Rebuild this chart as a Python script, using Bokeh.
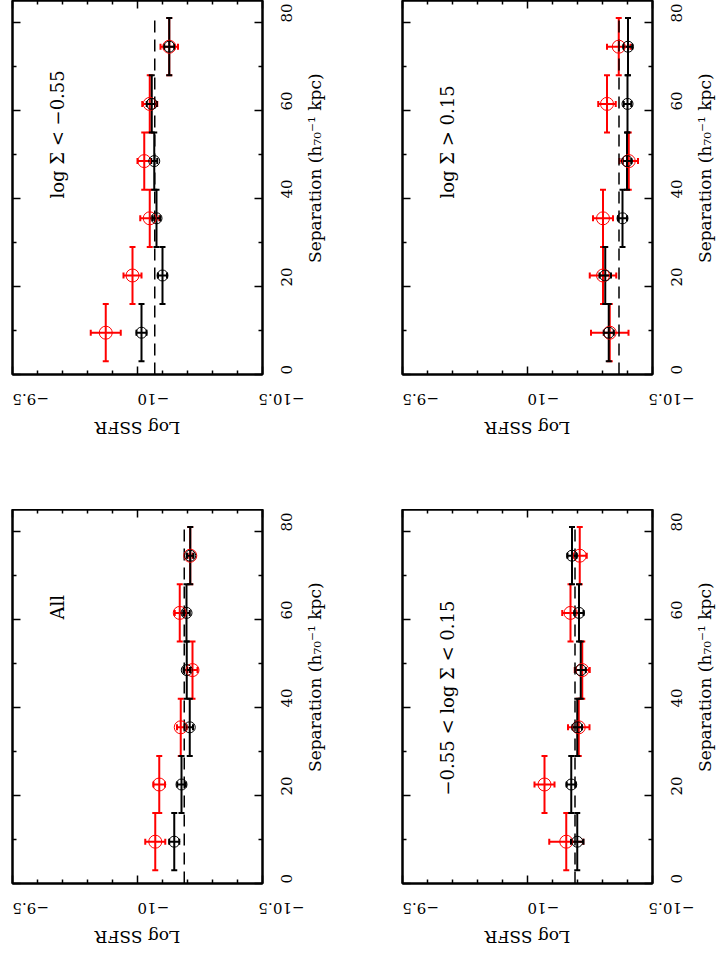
import math
from bokeh.plotting import figure
from bokeh.models import (Range1d, LinearAxis, Whisker, ColumnDataSource, Label,
                          TeeHead, FixedTicker, CustomJSTickFormatter)
from bokeh.layouts import row, column
from bokeh.embed import file_html
from bokeh.resources import INLINE
from bokeh.core.properties import value

FONT = "DejaVu Serif"

# ---------------- data ----------------
sep_centers = [9.5, 22.5, 35.5, 48.5, 61.5, 74.5]
sep_halfwidth = 6.5
dashed_sep = [0, 81]

# panel: log Sigma < -0.55 (top-left)
low_black = [-10.016, -10.100, -10.076, -10.067, -10.057, -10.127]
low_black_err = [0.020, 0.018, 0.015, 0.012, 0.020, 0.020]
low_red = [-9.873, -9.980, -10.049, -10.027, -10.049, -10.127]
low_red_err = [0.060, 0.036, 0.038, 0.027, 0.030, 0.035]
low_median = -10.069

# panel: log Sigma > 0.15 (top-right)
high_black = [-10.325, -10.311, -10.380, -10.398, -10.400, -10.402]
high_black_err = [0.020, 0.023, 0.018, 0.017, 0.015, 0.017]
high_red = [-10.329, -10.302, -10.302, -10.405, -10.318, -10.365]
high_red_err = [0.075, 0.053, 0.040, 0.037, 0.035, 0.047]
high_median = -10.366

# panel: All (bottom-left)
all_black = [-10.147, -10.176, -10.209, -10.197, -10.196, -10.211]
all_black_err = [0.020, 0.017, 0.013, 0.013, 0.013, 0.013]
all_red = [-10.071, -10.087, -10.173, -10.220, -10.169, -10.211]
all_red_err = [0.040, 0.023, 0.015, 0.020, 0.020, 0.010]
all_median = -10.187

# panel: -0.55 < log Sigma < 0.15 (bottom-right)
mid_black = [-10.199, -10.175, -10.199, -10.213, -10.206, -10.178]
mid_black_err = [0.025, 0.018, 0.019, 0.020, 0.018, 0.018]
mid_red = [-10.155, -10.068, -10.205, -10.219, -10.172, -10.209]
mid_red_err = [0.068, 0.040, 0.043, 0.030, 0.033, 0.028]
mid_median = -10.190

x_major = [-10.5, -10.0, -9.5]
x_minor = [-10.4, -10.3, -10.2, -10.1, -9.9, -9.8, -9.7, -9.6]
x_labels = {-10.5: "\u221210.5", -10.0: "\u221210", -9.5: "\u22129.5",
            "-10.5": "\u221210.5", "-10": "\u221210", "-9.5": "\u22129.5"}
y_major = [0, 20, 40, 60, 80]
y_minor = [10, 30, 50, 70]

SEP_LABEL = "Separation (h\u2087\u2080\u207b\u00b9 kpc)"
SSFR_LABEL = "Log SSFR"

TICK_FS = "15px"
LABEL_FS = "17px"
PANEL_FS = "18px"

FRAME_W = 250
FRAME_H = 374
LEFT_B = 12
PANEL_R = 42      # room for the rotated Separation tick labels
PANEL_B = 43      # room for the upside-down Log SSFR tick labels


def style_axis(ax, major_len=8, minor_len=4):
    ax.axis_line_color = "black"
    ax.axis_line_width = 2
    ax.major_tick_in = major_len
    ax.major_tick_out = 0
    ax.minor_tick_in = minor_len
    ax.minor_tick_out = 0
    ax.major_tick_line_width = 1.5
    ax.minor_tick_line_width = 1.5
    ax.major_tick_line_color = "black"
    ax.minor_tick_line_color = "black"
    ax.major_label_text_font = FONT
    ax.major_label_text_font_size = TICK_FS
    ax.major_label_text_color = "black"


def hidden_labels(ax):
    ax.formatter = CustomJSTickFormatter(code="return ''")
    ax.major_label_text_font_size = "1px"
    ax.major_label_standoff = 0
    ax.axis_label = None


def make_panel(black, black_err, red, red_err, median, text, text_sep):
    p = figure(frame_width=FRAME_W, frame_height=FRAME_H, output_backend="svg",
               toolbar_location=None,
               x_range=Range1d(-9.5, -10.5), y_range=Range1d(0, 85),
               x_axis_location="below", y_axis_location="right",
               min_border_left=LEFT_B, min_border_right=PANEL_R,
               min_border_top=0, min_border_bottom=PANEL_B)
    p.grid.visible = False
    p.outline_line_color = "black"
    p.outline_line_width = 2
    p.background_fill_color = "white"
    p.border_fill_color = "white"

    xt = FixedTicker(ticks=x_major, minor_ticks=x_minor)
    yt = FixedTicker(ticks=y_major, minor_ticks=y_minor)

    xb = p.xaxis[0]
    xb.ticker = xt
    style_axis(xb)
    xb.major_label_orientation = math.pi
    xb.major_label_overrides = x_labels
    xb.major_label_standoff = 25

    yr = p.yaxis[0]
    yr.ticker = yt
    style_axis(yr)
    yr.major_label_orientation = math.pi / 2
    yr.major_label_standoff = 24

    xtop = LinearAxis(ticker=xt)
    style_axis(xtop)
    hidden_labels(xtop)
    p.add_layout(xtop, "above")
    yleft = LinearAxis(ticker=yt)
    style_axis(yleft)
    hidden_labels(yleft)
    p.add_layout(yleft, "left")

    n = len(sep_centers)
    red_src = ColumnDataSource(dict(
        sep=sep_centers, val=red,
        lo=[red[i] - red_err[i] for i in range(n)],
        hi=[red[i] + red_err[i] for i in range(n)],
        slo=[s - sep_halfwidth for s in sep_centers],
        shi=[s + sep_halfwidth for s in sep_centers]))
    black_src = ColumnDataSource(dict(
        sep=sep_centers, val=black,
        lo=[black[i] - black_err[i] for i in range(n)],
        hi=[black[i] + black_err[i] for i in range(n)],
        slo=[s - sep_halfwidth for s in sep_centers],
        shi=[s + sep_halfwidth for s in sep_centers]))

    p.line(x=[median, median], y=dashed_sep, line_color="black",
           line_width=1.5, line_dash="12 7")

    for src, col in ((red_src, "#ff0000"), (black_src, "black")):
        for dim, base, lo, hi in (("width", "sep", "lo", "hi"),
                                  ("height", "val", "slo", "shi")):
            w = Whisker(source=src, base=base, lower=lo, upper=hi,
                        dimension=dim, line_color=col, line_width=2,
                        upper_head=TeeHead(size=6, line_color=col, line_width=2),
                        lower_head=TeeHead(size=6, line_color=col, line_width=2))
            p.add_layout(w)
        size = 13 if col != "black" else 11
        p.scatter(x="val", y="sep", source=src, marker="circle", size=size,
                  fill_color=None, line_color=col, line_width=1)

    p.add_layout(Label(x=-9.68, y=text_sep, text=text, angle=math.pi / 2,
                       text_align="left", text_baseline="middle",
                       text_font=FONT, text_font_size=PANEL_FS,
                       text_color="black"))
    return p


def text_fig(width, height, text, tx, ty, angle):
    f = figure(width=width, height=height, output_backend="svg",
               toolbar_location=None, x_range=Range1d(0, width),
               y_range=Range1d(0, height), min_border=0)
    f.axis.visible = False
    f.grid.visible = False
    f.outline_line_color = None
    f.background_fill_color = "white"
    f.border_fill_color = "white"
    f.text(x=[tx], y=[ty], text=[text], angle=angle, text_align="center",
           text_baseline="middle", text_font=value(FONT),
           text_font_size=LABEL_FS, text_color="black")
    return f


def quadrant(panel_args, right_total, bottom_total):
    p = make_panel(*panel_args)
    ph = FRAME_H + PANEL_B
    rl_w = right_total - PANEL_R
    # Separation title: centred on the frame, ~52 px right of the frame
    rl = text_fig(rl_w, ph, SEP_LABEL, 10.5, ph - FRAME_H / 2, math.pi / 2)
    bl_h = bottom_total - PANEL_B
    # Log SSFR title: centred under the frame, upside down
    bl = text_fig(LEFT_B + FRAME_W + right_total, bl_h, SSFR_LABEL,
                  LEFT_B + FRAME_W / 2, bl_h - 10.5, math.pi)
    return column(row(p, rl), bl)


TOP_BOTTOM = 135
LOW_BOTTOM = 64

tl = quadrant((low_black, low_black_err, low_red, low_red_err, low_median,
               "log \u03a3 < \u22120.55", 40), 128, TOP_BOTTOM)
tr = quadrant((high_black, high_black_err, high_red, high_red_err, high_median,
               "log \u03a3 > 0.15", 40), 64, TOP_BOTTOM)
bl = quadrant((all_black, all_black_err, all_red, all_red_err, all_median,
               "All", 60), 128, LOW_BOTTOM)
br = quadrant((mid_black, mid_black_err, mid_red, mid_red_err, mid_median,
               "\u22120.55 < log \u03a3 < 0.15", 20), 64, LOW_BOTTOM)

layout = column(row(tl, tr), row(bl, br))
open("out.html", "w").write(file_html(layout, INLINE))
